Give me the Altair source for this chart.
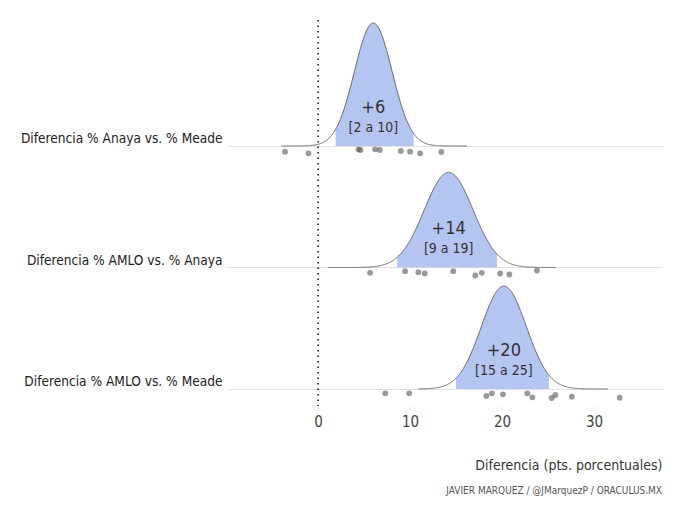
import altair as alt
import pandas as pd

# ---- data ----
labels = ["Diferencia % Anaya vs. % Meade",
          "Diferencia % AMLO vs. % Anaya",
          "Diferencia % AMLO vs. % Meade"]
means = [6.0, 14.2, 20.2]
sds = [2.05, 2.65, 2.45]
ci_low = [1.9, 8.6, 15.0]
ci_high = [10.4, 19.5, 25.1]
curve_min = [-4.0, 1.1, 10.9]
curve_max = [16.2, 25.9, 31.5]
center_text = ["+6", "+14", "+20"]
range_text = ["[2 a 10]", "[9 a 19]", "[15 a 25]"]

polls_1 = [-3.6, -1.05, 4.4, 4.6, 6.2, 6.7, 9.0, 10.0, 11.1, 13.4]
polls_2 = [5.65, 9.46, 10.9, 11.6, 14.7, 17.1, 17.8, 19.8, 20.8, 23.8]
polls_3 = [7.3, 9.9, 18.3, 18.9, 20.1, 22.75, 23.3, 25.4, 25.8, 27.6, 32.8]
jitter_1 = [5.7, 7.3, 3.3, 4.0, 3.3, 4.0, 5.0, 5.7, 7.3, 6.0]
jitter_2 = [5.3, 3.7, 4.7, 6.0, 3.7, 8.0, 5.3, 6.0, 7.0, 3.0]
jitter_3 = [4.3, 4.3, 7.0, 4.3, 5.3, 4.3, 8.3, 9.0, 6.0, 7.7, 8.7]
polls = [polls_1, polls_2, polls_3]
jitters = [jitter_1, jitter_2, jitter_3]

x_ticks = [0, 10, 20, 30]
caption = "JAVIER MARQUEZ / @JMarquezP / ORACULUS.MX"
x_title = "Diferencia (pts. porcentuales)"

# ---- styling ----
FONT = "DejaVu Sans Condensed, Roboto Condensed, Liberation Sans Narrow, Roboto, sans-serif"
FILL = "#b4c5f1"
ROW_PX = 121.5
K = 5.2  # density -> row units

W, H = 434, 386
xscale = alt.Scale(domain=[-9.8, 37.4], nice=False, zero=False)
yscale = alt.Scale(domain=[-0.14, 3.037], nice=False, zero=False)

label_expr = (f"datum.value == 2 ? '{labels[0]}' : "
              f"datum.value == 1 ? '{labels[1]}' : '{labels[2]}'")

xaxis = alt.Axis(values=x_ticks, grid=False, domain=False, ticks=True,
                 tickColor="#e6e6e6", tickSize=4, labelFontSize=15,
                 labelColor="#444444", labelPadding=4, labelFont=FONT,
                 title=x_title, titleFont=FONT, titleFontSize=14,
                 titleFontWeight="normal", titleColor="#333333",
                 titleAlign="right", titleX=W, titleY=63,
                 titleBaseline="alphabetic")
yaxis = alt.Axis(values=[0, 1, 2], labelExpr=label_expr, grid=True,
                 gridColor="#e2e2e2", gridWidth=1, domain=False, ticks=False,
                 labelFontSize=13.6, labelColor="#222222", labelFont=FONT,
                 labelPadding=6, labelBaseline="alphabetic", labelOffset=-3,
                 labelLimit=400, title=None)

X = lambda f: alt.X(f, scale=xscale, axis=xaxis)
Y = lambda f: alt.Y(f, scale=yscale, axis=yaxis)

layers = []
for i in range(3):
    row = 2 - i
    step = 0.05
    base = alt.Chart(alt.sequence(curve_min[i], curve_max[i] + step / 2, step, as_="x")).transform_calculate(
        y=f"{row} + {K} * densityNormal(datum.x, {means[i]}, {sds[i]})",
        b=f"{row}")
    area = base.transform_filter(
        f"datum.x >= {ci_low[i]} && datum.x <= {ci_high[i]}"
    ).mark_area(color=FILL, opacity=1).encode(x=X("x:Q"), y=Y("y:Q"), y2="b:Q")
    line = base.mark_line(color="#666666", strokeWidth=1).encode(x=X("x:Q"), y=Y("y:Q"))
    layers += [area, line]

    pts = pd.DataFrame({"x": polls[i], "j": jitters[i]})
    pts["row"] = row
    pc = alt.Chart(pts).transform_calculate(
        y=f"datum.row - datum.j / {ROW_PX}"
    ).mark_circle(color="#555555", opacity=0.6, size=34).encode(x=X("x:Q"), y=Y("y:Q"))
    layers.append(pc)

txt = pd.DataFrame({"x": means, "row": [2, 1, 0], "c": center_text, "r": range_text})
t1 = alt.Chart(txt).transform_calculate(y=f"datum.row + 38 / {ROW_PX}").mark_text(
    font=FONT, fontSize=18, color="#333333", baseline="middle").encode(
    x=X("x:Q"), y=Y("y:Q"), text="c:N")
t2 = alt.Chart(txt).transform_calculate(y=f"datum.row + 18 / {ROW_PX}").mark_text(
    font=FONT, fontSize=14, color="#333333", baseline="middle").encode(
    x=X("x:Q"), y=Y("y:Q"), text="r:N")

zero = alt.Chart(pd.DataFrame({"x": [0]})).mark_rule(
    color="#111111", strokeWidth=1.5, strokeDash=[1.5, 4]).encode(x=X("x:Q"))

cap = alt.Chart(pd.DataFrame({"t": [caption]})).mark_text(
    font=FONT, fontSize=10, color="#555555", align="right", baseline="alphabetic"
).encode(x=alt.value(W), y=alt.value(474), text="t:N")

chart = alt.layer(zero, *layers, t1, t2, cap).properties(
    width=W, height=H,
    autosize=alt.AutoSizeParams(type="none"),
    padding={"left": 220, "top": 12, "right": 10, "bottom": 95},
    background="white",
).configure_view(stroke=None)

chart.save("out.html", embed_options={"renderer": "svg", "actions": False})
